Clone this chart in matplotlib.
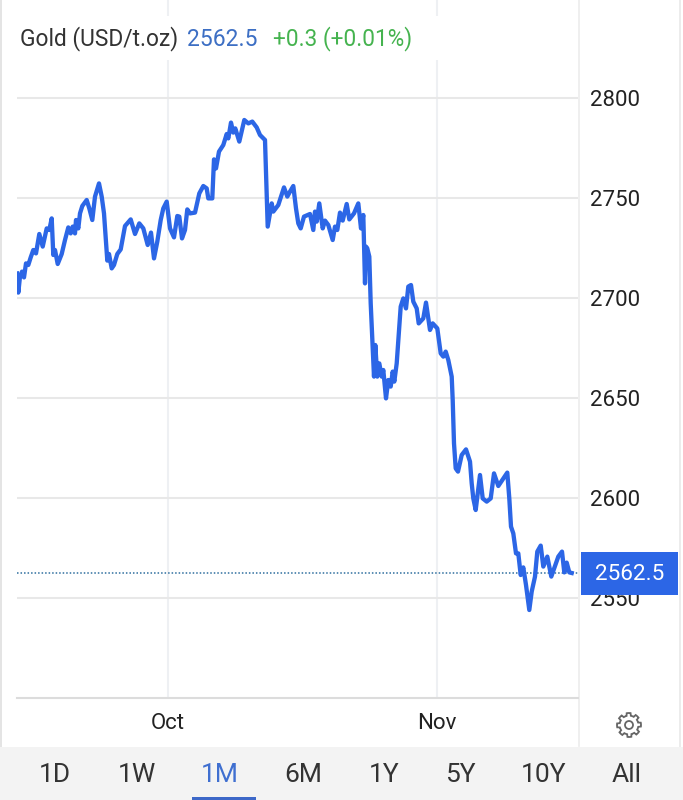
import numpy as np
import matplotlib
matplotlib.use("Agg")
import matplotlib.pyplot as plt
from matplotlib.patches import Rectangle, Polygon, Circle

# sample position along the time axis (one step is about 2.8 hours)
steps = [0,1.3,3,5,7,9,11.3,13.7,16.3,19,22.3,25.7,29.7,32.3,34.7,36.3,38,40.7,44.7,48,51.3,53.7,55.7,58,59,61.3,63,65.3,69.7,72.3,75.3,78,82,84.7,87,90.3,92,94.7,97,100.3,103.7,108,113.7,118,122.3,126.3,130.7,134,137,140.3,143.7,146.3,149.7,153,157,160.3,162.3,165,168,170.3,173,178,182.3,186.3,189.7,191.3,195.3,197,199,202,206.3,209.7,211.3,214,216.3,218.3,222.3,227.3,231.3,235.3,239.7,243,248,250.7,254.7,256.3,261.3,267,270.3,273,276.3,279,281.3,283.7,287,293,296.3,298,299.7,302.3,305.7,308,311.3,315.7,318,320.3,323,325.7,329.7,332.3,337,341.3,344,346.3,347,348,349,350.3,352.3,353.7,357,358.3,360.3,362.3,364.7,366.3,369,371.3,373.7,375.7,377.3,379.7,383.7,386.3,389,391.3,394,396.3,399.7,401.7,406.3,409,413,415.7,420.3,423.7,426.3,428.7,431.3,434.7,435.7,437,438.7,441,444.7,449,453,454.7,456.3,458.7,463,465.7,469.7,473.7,477,481.3,490.3,492.3,494,496.3,499,501.3,503.7,506.3,509,512.3,514.7,518,520.3,523.7,526.3,530.3,534.3,541.3,545,547.3,549.7,552.3,554.7]
prices = [2712.3,2702.7,2710.7,2713.2,2710.3,2717.3,2716.5,2720.3,2724,2722.3,2732,2725.7,2734.8,2734,2739.8,2721.5,2724,2717,2722,2729,2735.3,2732.3,2735.7,2732.3,2739,2734.8,2742.3,2746,2749,2744.8,2739,2750.7,2757.3,2750.7,2742.3,2718.7,2722,2714.8,2716.5,2722,2724.3,2736,2739.3,2732,2737.3,2734.8,2726.5,2732.7,2719.8,2728.2,2739,2744.8,2748.2,2734.8,2730.3,2741,2740.7,2729.8,2734,2744.3,2742.3,2742.7,2752.3,2756,2754.8,2749.8,2749.8,2769.3,2764.8,2773.2,2776.5,2782,2779.8,2787.7,2782.7,2784.8,2778.2,2789,2787.3,2788.2,2785.3,2781.5,2779,2735.7,2747.3,2743.2,2746.5,2755.3,2750.7,2753.2,2756,2744.8,2737.3,2734.8,2740.7,2742,2734,2743.2,2738.2,2747.3,2734.8,2738.7,2736.5,2729,2735.7,2734,2742.7,2738.7,2747,2739.3,2742.3,2747.3,2734.8,2741.5,2727.3,2707.3,2725.7,2724.8,2720.7,2697.3,2660.7,2676.5,2660.7,2667.3,2660.7,2664,2649.8,2659,2655.7,2663.2,2658.2,2667.3,2695.7,2699.8,2694.8,2705.7,2706.5,2698.2,2694.8,2687.3,2689.8,2697.7,2684,2687.3,2684.8,2672.3,2670.7,2673.2,2669,2660.7,2649,2627.3,2614.8,2613.2,2621.5,2624.3,2618.2,2607.3,2599.8,2594,2611.5,2599.8,2598.2,2599.8,2612.3,2606,2612.7,2599.8,2585.7,2582.3,2572.3,2572.3,2561.5,2565.3,2556.5,2544,2553.2,2560.7,2573.2,2576.2,2565.7,2570.7,2560.7,2570.7,2573.2,2562.8,2567.7,2562.8,2562.5]
last_price = 2562.5
y_ticks = [2550, 2600, 2650, 2700, 2750, 2800]
month_steps = [151, 420]
month_labels = ["Oct", "Nov"]
ranges = ["1D", "1W", "1M", "6M", "1Y", "5Y", "10Y", "All"]
range_centres = [55, 137, 220, 303, 384, 460, 544, 627]
active_range = "1M"

W, H = 683, 800
BLUE = "#2c66e6"
INK = "#222222"
GRID = "#e8e8e8"
plt.rcParams["font.family"] = ["Roboto", "DejaVu Sans"]

fig = plt.figure(figsize=(W / 100, H / 100), dpi=100, facecolor="white")
bg = fig.add_axes([0, 0, 1, 1], zorder=0)
bg.set_xlim(0, W); bg.set_ylim(H, 0); bg.axis("off")

ax = fig.add_axes([17 / W, (H - 698) / H, 561 / W, 698 / H], zorder=1)
ax.patch.set_alpha(0)
ax.set_xlim(0, 561)
ax.set_ylim(2500, 2849)
for s in ["top", "left", "right"]:
    ax.spines[s].set_visible(False)
ax.spines["bottom"].set_color("#dcdcdc")
ax.spines["bottom"].set_linewidth(1.5)
ax.set_yticks(y_ticks)
ax.yaxis.tick_right()
ax.tick_params(axis="y", length=0, pad=8.5, labelsize=16, labelcolor=INK)
ax.set_xticks(month_steps)
ax.set_xticklabels(month_labels)
ax.tick_params(axis="x", length=0, pad=10.5, labelsize=16, labelcolor=INK)
ax.grid(axis="y", color=GRID, lw=1.5)
ax.grid(axis="x", color="#eef0f3", lw=1.5)
ax.set_axisbelow(True)
ax.plot(steps, prices, color=BLUE, lw=3.1, solid_joinstyle="round", zorder=3)
ax.axhline(last_price, color="#2f6f9f", lw=1.1, ls=(0, (1, 1.3)), zorder=2)

# frame, separator and range bar
bg.add_patch(Rectangle((0, 0), 2, 748, color="#e4e4e4", lw=0))
bg.add_patch(Rectangle((679, 0), 2, 748, color="#ececec", lw=0))
bg.plot([579, 579], [0, 746], color="#ececec", lw=1.2)
bg.add_patch(Rectangle((0, 747), W, 53, color="#f3f3f3", lw=0))
for lab, cx in zip(ranges, range_centres):
    on = lab == active_range
    bg.text(cx, 775, lab, ha="center", va="center", fontsize=19,
            color="#3f6fd0" if on else "#333333")
    if on:
        bg.add_patch(Rectangle((cx - 28, 797), 64, 3, color="#3d68c8", lw=0))

# gear icon
t = np.linspace(0, 2 * np.pi, 97)[:-1]
r = 12 - 2.6 * (np.cos(8 * t) < 0)
bg.add_patch(Polygon(np.c_[629 + r * np.sin(t), 725 + r * np.cos(t)], closed=True,
                     fill=False, ec="#666666", lw=1.3))
bg.add_patch(Circle((629, 725), 4, fill=False, ec="#666666", lw=1.3))

# header strip
top = fig.add_axes([0, 0, 1, 1], zorder=2)
top.set_xlim(0, W); top.set_ylim(H, 0); top.axis("off"); top.patch.set_alpha(0)
top.add_patch(Rectangle((3, 16), 574, 44, color="white", lw=0))
top.text(20, 39, "Gold (USD/t.oz)", fontsize=16.4, color="#333333", va="center")
top.text(187, 39, "2562.5", fontsize=16.5, color="#3d6fc4", va="center")
top.text(273, 39, "+0.3 (+0.01%)", fontsize=16.3, color="#45b34f", va="center")

# last-price tag
top.add_patch(Rectangle((581, 552), 97, 43, color=BLUE, lw=0))
top.text(629.5, 574, "2562.5", fontsize=16.2, color="white", ha="center", va="center")

fig.savefig("out.png", dpi=100, facecolor="white")
